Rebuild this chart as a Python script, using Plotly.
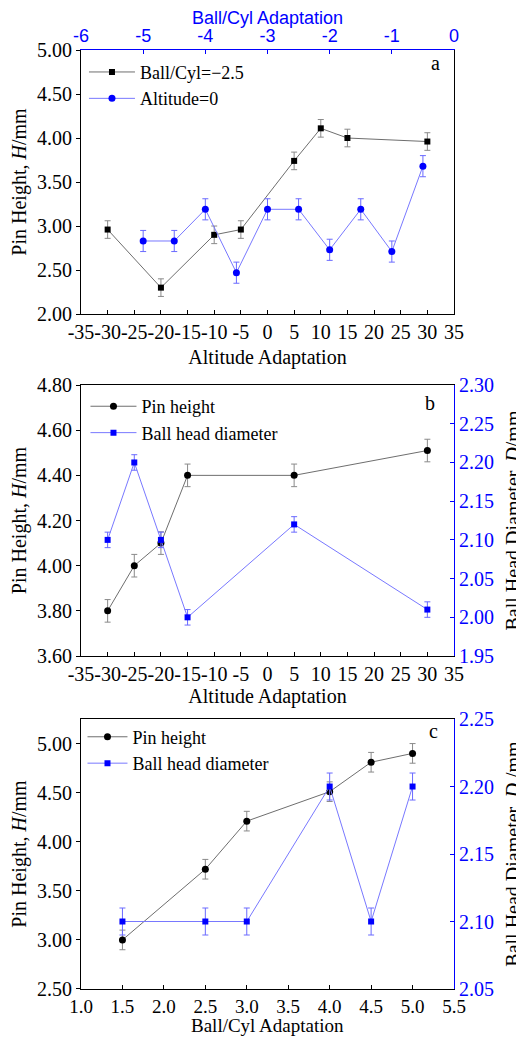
import plotly.graph_objects as go

# ---------------- data ----------------
# Panel a
a_alt_x = [-30, -20, -10, -5, 5, 10, 15, 30]
a_alt_y = [2.96, 2.30, 2.90, 2.96, 3.74, 4.11, 4.00, 3.96]
a_alt_err = [0.10] * 8
a_bc_x = [-5.0, -4.5, -4.0, -3.5, -3.0, -2.5, -2.0, -1.5, -1.0, -0.5]
a_bc_y = [2.83, 2.83, 3.19, 2.47, 3.19, 3.19, 2.73, 3.19, 2.71, 3.68]
a_bc_err = [0.12] * 10

# Panel b
b_x = [-30, -25, -20, -15, 5, 30]
b_pin = [3.80, 4.00, 4.10, 4.40, 4.40, 4.51]
b_pin_err = [0.05] * 6
b_dia = [2.10, 2.20, 2.10, 2.00, 2.12, 2.01]
b_dia_err = [0.01] * 6

# Panel c
c_x = [1.5, 2.5, 3.0, 4.0, 4.5, 5.0]
c_pin = [3.00, 3.72, 4.21, 4.51, 4.81, 4.90]
c_pin_err = [0.10] * 6
c_dia = [2.10, 2.10, 2.10, 2.20, 2.10, 2.20]
c_dia_err = [0.01] * 6

alt_ticks = [-35, -30, -25, -20, -15, -10, -5, 0, 5, 10, 15, 20, 25, 30, 35]
bc_top_ticks = [-6, -5, -4, -3, -2, -1, 0]
c_xticks = [1.0, 1.5, 2.0, 2.5, 3.0, 3.5, 4.0, 4.5, 5.0, 5.5]

# ---------------- style ----------------
SERIF = "Liberation Serif, Times New Roman, serif"
SANS = "Liberation Sans, Arial, sans-serif"
BLUE = "#0000ff"
TICK_FS = 20
TITLE_FS = 20
LEG_FS = 18

fig = go.Figure()

def black_trace(x, y, err, symbol, name, xa, ya, legend):
    return go.Scatter(
        x=x, y=y, name=name, mode="lines+markers", xaxis=xa, yaxis=ya, legend=legend,
        line=dict(color="#6e6e6e", width=1),
        marker=dict(color="black", symbol=symbol, size=7 if symbol == "circle" else 6),
        error_y=dict(type="data", array=err, color="#8a8a8a", thickness=1, width=3),
    )

def blue_trace(x, y, err, symbol, name, xa, ya, legend):
    return go.Scatter(
        x=x, y=y, name=name, mode="lines+markers", xaxis=xa, yaxis=ya, legend=legend,
        line=dict(color="#7878ff", width=1),
        marker=dict(color=BLUE, symbol=symbol, size=7 if symbol == "circle" else 6),
        error_y=dict(type="data", array=err, color="#6a6aff", thickness=1, width=3),
    )

fig.add_trace(black_trace(a_alt_x, a_alt_y, a_alt_err, "square", "Ball/Cyl=\u22122.5", "x", "y", "legend"))
fig.add_trace(blue_trace(a_bc_x, a_bc_y, a_bc_err, "circle", "Altitude=0", "x2", "y", "legend"))

fig.add_trace(black_trace(b_x, b_pin, b_pin_err, "circle", "Pin height", "x3", "y3", "legend2"))
fig.add_trace(blue_trace(b_x, b_dia, b_dia_err, "square", "Ball head diameter", "x3", "y4", "legend2"))

fig.add_trace(black_trace(c_x, c_pin, c_pin_err, "circle", "Pin height", "x4", "y5", "legend3"))
fig.add_trace(blue_trace(c_x, c_dia, c_dia_err, "square", "Ball head diameter", "x4", "y6", "legend3"))

# domains (fractions of plot area)
dom_a = [0.7188, 1.0]
dom_b = [0.3546, 0.6432]
dom_c = [0.0, 0.2875]

base = dict(showgrid=False, zeroline=False, showline=True, linewidth=1, ticklen=4,
            tickwidth=1, automargin=False, tickangle=0)

def xbottom(rng, tickvals, ticktext, title, anchor, mirror, standoff, tfs=TICK_FS):
    return dict(base, range=rng, tickvals=tickvals, ticktext=ticktext, anchor=anchor,
                linecolor="black", tickcolor="black", ticks="inside", mirror=mirror,
                tickfont=dict(family=SERIF, size=tfs, color="black"),
                title=dict(text=title, font=dict(family=SERIF, size=TITLE_FS, color="black"), standoff=standoff))

def yleft(rng, dtick, fmt, title, anchor, domain, mirror):
    return dict(base, range=rng, dtick=dtick, tickformat=fmt, anchor=anchor, domain=domain,
                linecolor="black", tickcolor="black", ticks="outside", mirror=mirror,
                tickfont=dict(family=SERIF, size=TICK_FS, color="black"),
                title=dict(text=title, font=dict(family=SERIF, size=TITLE_FS, color="black"), standoff=6))

def yright(rng, dtick, title, anchor, overlaying):
    return dict(base, range=rng, dtick=dtick, tickformat=".2f", anchor=anchor, overlaying=overlaying,
                side="right", linecolor=BLUE, tickcolor=BLUE, ticks="inside",
                tickfont=dict(family=SERIF, size=TICK_FS, color=BLUE),
                title=dict(text=title, font=dict(family=SERIF, size=TITLE_FS, color="black"), standoff=18))

pin_title = "Pin Height, <i>H</i>/mm"

legend_common = dict(xanchor="left", yanchor="top", bgcolor="rgba(0,0,0,0)",
                     font=dict(family=SERIF, size=LEG_FS, color="black"), tracegroupgap=0)

def label(text, x, y, size=TITLE_FS, color="black", yanchor="top"):
    return dict(text=text, x=x, y=y, xref="paper", yref="paper", showarrow=False,
                xanchor="center", yanchor=yanchor, font=dict(family=SERIF, size=size, color=color))

fig.update_layout(
    width=516, height=1030,
    margin=dict(l=73, r=70, t=42, b=49),
    paper_bgcolor="white", plot_bgcolor="white",
    showlegend=True,
    xaxis=xbottom([-35, 35], alt_ticks, [str(v) for v in alt_ticks], "Altitude Adaptation", "y", False, 7),
    xaxis2=dict(base, range=[-6, 0], tickvals=bc_top_ticks, ticktext=[str(v) for v in bc_top_ticks],
                overlaying="x", side="top", anchor="y",
                linecolor=BLUE, tickcolor=BLUE, ticks="inside",
                tickfont=dict(family=SANS, size=18, color=BLUE),
                title=dict(text="Ball/Cyl Adaptation", font=dict(family=SANS, size=18, color=BLUE), standoff=2)),
    yaxis=yleft([2.0, 5.0], 0.5, ".2f", pin_title, "x", dom_a, True),
    xaxis3=xbottom([-35, 35], alt_ticks, [str(v) for v in alt_ticks], "Altitude Adaptation", "y3", True, 4),
    yaxis3=yleft([3.6, 4.8], 0.2, ".2f", pin_title, "x3", dom_b, False),
    yaxis4=yright([1.95, 2.30], 0.05, "Ball Head Diameter. <i>D</i>/mm", "x3", "y3"),
    xaxis4=xbottom([1.0, 5.5], c_xticks, ["%.1f" % v for v in c_xticks], "", "y5", True, 0, tfs=19),
    yaxis5=yleft([2.5, 5.25], 0.5, ".2f", pin_title, "x4", dom_c, False),
    yaxis6=yright([2.05, 2.25], 0.05, "Ball Head Diameter, <i>D</i> /mm", "x4", "y5"),
    legend=dict(legend_common, x=0.008, y=0.996, itemwidth=46),
    legend2=dict(legend_common, x=0.012, y=0.640, itemwidth=46),
    legend3=dict(legend_common, x=0.004, y=0.288, itemwidth=40),
    annotations=[
        label("a", 0.95, 1.0),
        label("b", 0.935, 0.638),
        label("c", 0.945, 0.289),
        # bottom axis title of panel c
        label("Ball/Cyl Adaptation", 0.5, -0.0522, size=19, yanchor="bottom"),
    ],
)

fig.write_html("out.html")
